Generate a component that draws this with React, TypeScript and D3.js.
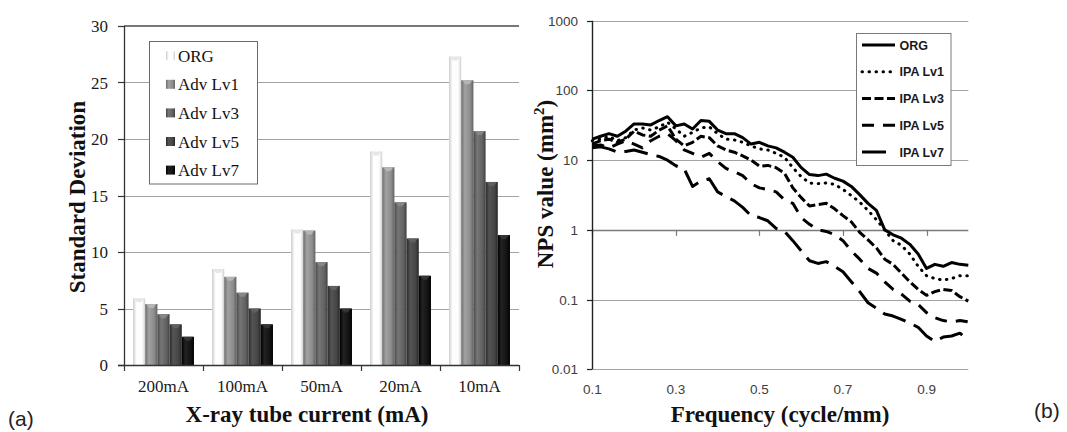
import React from 'react';
import * as d3 from 'd3';

// ---------- (a) standard deviation by tube current ----------
const categories = ['200mA', '100mA', '50mA', '20mA', '10mA'];
const barSeries = ['ORG', 'Adv Lv1', 'Adv Lv3', 'Adv Lv5', 'Adv Lv7'];
const sdOrg = [5.9, 8.5, 12.0, 18.9, 27.3];
const sdAdv1 = [5.4, 7.8, 11.9, 17.5, 25.2];
const sdAdv3 = [4.5, 6.4, 9.1, 14.4, 20.7];
const sdAdv5 = [3.6, 5.0, 7.0, 11.2, 16.2];
const sdAdv7 = [2.5, 3.6, 5.0, 7.9, 11.5];
const sdTicks = [0, 5, 10, 15, 20, 25, 30];

// ---------- (b) noise power spectrum ----------
const freq = [
  0.1, 0.12, 0.14, 0.16, 0.18, 0.2, 0.22, 0.24, 0.26, 0.28,
  0.3, 0.32, 0.34, 0.36, 0.38, 0.4, 0.42, 0.44, 0.46, 0.48,
  0.5, 0.52, 0.54, 0.56, 0.58, 0.6, 0.62, 0.64, 0.66, 0.68,
  0.7, 0.72, 0.74, 0.76, 0.78, 0.8, 0.82, 0.84, 0.86, 0.88,
  0.9, 0.92, 0.94, 0.96, 0.98, 1.0,
];
const npsOrg = [
  20, 22, 24, 22, 26, 33, 33, 32, 37, 42,
  31, 33, 28, 37, 36, 27, 24, 24, 21, 17,
  18, 16, 15, 13, 11, 7.8, 6.2, 6.0, 6.3, 5.5,
  5.0, 4.2, 3.2, 2.4, 1.9, 1.0, 0.85, 0.76, 0.62, 0.45,
  0.28, 0.32, 0.3, 0.34, 0.32, 0.31,
];
const npsLv1 = [
  19, 20, 22, 19, 21, 27, 29, 27, 30, 35,
  28, 22, 25, 29, 30, 24, 20, 19.5, 18, 16,
  14.5, 14, 12.5, 11, 7.8, 5.8, 4.7, 4.6, 4.7, 4.5,
  3.8, 3.1, 2.5, 1.9, 1.4, 1.0, 0.7, 0.6, 0.45, 0.3,
  0.22, 0.2, 0.19, 0.2, 0.22, 0.22,
];
const npsLv3 = [
  17, 19, 20, 18, 20, 26, 23, 22, 27, 31,
  20, 16, 18, 22, 21, 16, 14, 13, 11.5, 10,
  8.2, 8.4, 7.8, 6.5, 4.0, 2.9, 2.2, 2.3, 2.4, 2.0,
  1.6, 1.3, 0.92, 0.72, 0.55, 0.38, 0.32, 0.24, 0.18, 0.14,
  0.115, 0.13, 0.14, 0.135, 0.11, 0.095,
];
const npsLv5 = [
  16, 16.5, 15, 17, 19, 17, 15, 19, 22, 24,
  19, 14, 12.5, 11, 12.5, 9.5, 7.6, 6.8, 6.0, 4.6,
  4.0, 3.8, 3.5, 2.7, 2.4, 1.5, 1.2, 1.0, 0.95, 0.85,
  0.7, 0.5, 0.38, 0.28, 0.24, 0.18, 0.14, 0.12, 0.095, 0.085,
  0.065, 0.055, 0.05, 0.048, 0.05, 0.048,
];
const npsLv7 = [
  15, 15.5, 14.5, 13, 13.3, 14, 13, 12, 11.3, 10,
  8.3, 7.5, 4.2, 5.0, 5.4, 3.5, 3.0, 2.6, 2.1, 1.6,
  1.5, 1.35, 1.05, 0.95, 0.7, 0.5, 0.36, 0.33, 0.35, 0.3,
  0.25, 0.18, 0.13, 0.09, 0.075, 0.062, 0.058, 0.052, 0.046, 0.04,
  0.03, 0.025, 0.029, 0.03, 0.033, 0.026,
];
const lineSeries = ['ORG', 'IPA Lv1', 'IPA Lv3', 'IPA Lv5', 'IPA Lv7'];
const npsTicks = [0.01, 0.1, 1, 10, 100, 1000];
const freqTicks = [0.1, 0.3, 0.5, 0.7, 0.9];

const SERIF = '"Liberation Serif", "Times New Roman", serif';
const SANS = '"Liberation Sans", Arial, sans-serif';

// shaded column fills: [edge, highlight, body, dark edge]
const barShades = [
  ['#cdcdcd', '#ffffff', '#fdfdfd', '#cfcfcf'],
  ['#6c6c6c', '#a2a2a2', '#8b8b8b', '#626262'],
  ['#474747', '#767676', '#616161', '#414141'],
  ['#2a2a2a', '#545454', '#454545', '#262626'],
  ['#000000', '#222222', '#121212', '#000000'],
];
const capShades = ['#e6e6e6', '#b5b5b5', '#868686', '#606060', '#333333'];

const dashes = ['none', '0.5 6.5', '9 3.5', '12 9', '24 9'];

const fmtNps = (v: number) => (v >= 1 ? String(v) : String(v));

export default function App() {
  // panel (a)
  const xCat = d3.scaleBand<string>().domain(categories).range([124, 519]);
  const xSer = d3
    .scaleBand<string>()
    .domain(barSeries)
    .range([0, xCat.bandwidth()])
    .paddingOuter(0.74);
  const ySD = d3.scaleLinear().domain([0, 30]).range([365, 26]);
  const barValues = [sdOrg, sdAdv1, sdAdv3, sdAdv5, sdAdv7];

  // panel (b)
  const xF = d3.scaleLinear().domain([0.1, 1.0]).range([592.3, 968.3]);
  const yN = d3.scaleLog().domain([0.01, 1000]).range([369.3, 20.7]);
  const npsValues = [npsOrg, npsLv1, npsLv3, npsLv5, npsLv7];
  const line = d3
    .line<number>()
    .x((_, i) => xF(freq[i]))
    .y((d) => yN(d));

  const bw = xSer.bandwidth();
  const r = (v: number) => Math.round(v) + 0.5;

  return (
    <svg
      width={1067}
      height={432}
      viewBox="0 0 1067 432"
      style={{ position: 'absolute', left: 0, top: 0, background: '#fff' }}
    >
      <defs>
        {barShades.map((s, i) => (
          <linearGradient key={i} id={`bar${i}`} x1="0" x2="1" y1="0" y2="0">
            <stop offset="0" stopColor={s[0]} />
            <stop offset="0.3" stopColor={s[1]} />
            <stop offset="0.75" stopColor={s[2]} />
            <stop offset="1" stopColor={s[3]} />
          </linearGradient>
        ))}
      </defs>

      {/* ---------- (a) ---------- */}
      {sdTicks.slice(1, -1).map((t) => (
        <line
          key={t}
          x1={124}
          x2={519}
          y1={r(ySD(t))}
          y2={r(ySD(t))}
          stroke="#a3a3a3"
          strokeWidth={1}
        />
      ))}
      <line x1={124} x2={519} y1={ySD(30)} y2={ySD(30)} stroke="#4a4a4a" strokeWidth={1.6} />

      {categories.map((c, ci) =>
        barSeries.map((s, si) => {
          const v = barValues[si][ci];
          const x = (xCat(c) as number) + (xSer(s) as number);
          const y = ySD(v);
          const h = ySD(0) - y;
          const cx = x + bw / 2;
          return (
            <g key={`${c}-${s}`}>
              <rect x={x} y={y} width={bw} height={h} fill={`url(#bar${si})`} />
              <path
                d={`M${x + 1},${y} L${x + bw - 1},${y} L${cx + 2},${y + 4} L${cx - 2},${y + 4} Z`}
                fill={capShades[si]}
              />
            </g>
          );
        })
      )}

      {/* axes (a) */}
      <line x1={r(124)} x2={r(124)} y1={26} y2={365} stroke="#333" strokeWidth={1.3} />
      <line x1={118} x2={519} y1={r(365)} y2={r(365)} stroke="#333" strokeWidth={1.3} />
      {sdTicks.map((t) => (
        <g key={t}>
          <line x1={118} x2={124} y1={r(ySD(t))} y2={r(ySD(t))} stroke="#333" strokeWidth={1.2} />
          <text
            x={108}
            y={ySD(t) + 6}
            textAnchor="end"
            fontFamily={SERIF}
            fontSize={17}
            fill="#1a1a1a"
          >
            {t}
          </text>
        </g>
      ))}
      {[...categories.map((c) => xCat(c) as number), 519].map((x, i) => (
        <line key={i} x1={r(x)} x2={r(x)} y1={365} y2={371} stroke="#333" strokeWidth={1.2} />
      ))}
      {categories.map((c) => (
        <text
          key={c}
          x={(xCat(c) as number) + xCat.bandwidth() / 2}
          y={392}
          textAnchor="middle"
          fontFamily={SERIF}
          fontSize={17}
          fill="#1a1a1a"
        >
          {c}
        </text>
      ))}
      <text
        x={307}
        y={422}
        textAnchor="middle"
        fontFamily={SERIF}
        fontWeight="bold"
        fontSize={23}
        fill="#111"
      >
        X-ray tube current (mA)
      </text>
      <text
        transform="translate(85,197) rotate(-90)"
        textAnchor="middle"
        fontFamily={SERIF}
        fontWeight="bold"
        fontSize={23}
        fill="#111"
      >
        Standard Deviation
      </text>

      {/* legend (a) */}
      <rect x={149.5} y={41.5} width={108} height={142.5} fill="#fff" stroke="#6a6a6a" strokeWidth={1} />
      {barSeries.map((s, i) => {
        const cy = 55.7 + i * 28.6;
        return (
          <g key={s}>
            <rect x={166} y={cy - 4.5} width={9} height={9} fill={`url(#bar${i})`} />
            <text x={178} y={cy + 6} fontFamily={SERIF} fontSize={17} fill="#111">
              {s}
            </text>
          </g>
        );
      })}

      <text x={8} y={426} fontFamily={SANS} fontSize={21} fill="#222">
        (a)
      </text>

      {/* ---------- (b) ---------- */}
      {npsTicks
        .filter((t) => t !== 1)
        .map((t) => (
          <line
            key={t}
            x1={592}
            x2={968.3}
            y1={r(yN(t))}
            y2={r(yN(t))}
            stroke="#a3a3a3"
            strokeWidth={1}
          />
        ))}
      {/* category axis crosses the value axis at 1 */}
      <line x1={592} x2={968.3} y1={r(yN(1))} y2={r(yN(1))} stroke="#7a7a7a" strokeWidth={1.3} />
      {freqTicks.map((f) => (
        <line
          key={f}
          x1={r(xF(f))}
          x2={r(xF(f))}
          y1={yN(1)}
          y2={yN(1) + 6}
          stroke="#7a7a7a"
          strokeWidth={1.2}
        />
      ))}
      <line x1={r(592.3)} x2={r(592.3)} y1={20.7} y2={369.3} stroke="#222" strokeWidth={1.4} />
      {npsTicks.map((t) => (
        <g key={t}>
          <line x1={587} x2={592} y1={r(yN(t))} y2={r(yN(t))} stroke="#222" strokeWidth={1.2} />
          <text
            x={578}
            y={yN(t) + 5}
            textAnchor="end"
            fontFamily={SANS}
            fontSize={13.5}
            fill="#404040"
          >
            {fmtNps(t)}
          </text>
        </g>
      ))}
      {freqTicks.map((f) => (
        <text
          key={f}
          x={xF(f)}
          y={394}
          textAnchor="middle"
          fontFamily={SANS}
          fontSize={13.5}
          fill="#404040"
        >
          {f.toFixed(1)}
        </text>
      ))}

      {npsValues.map((vals, i) => (
        <path
          key={lineSeries[i]}
          d={line(vals) as string}
          fill="none"
          stroke="#000"
          strokeWidth={3}
          strokeLinejoin="round"
          strokeLinecap={i === 1 ? 'round' : 'butt'}
          strokeDasharray={dashes[i]}
        />
      ))}

      <text
        x={780}
        y={422}
        textAnchor="middle"
        fontFamily={SERIF}
        fontWeight="bold"
        fontSize={23}
        fill="#111"
      >
        Frequency (cycle/mm)
      </text>
      <text
        transform="translate(553,184) rotate(-90)"
        textAnchor="middle"
        fontFamily={SERIF}
        fontWeight="bold"
        fontSize={23}
        fill="#111"
      >
        NPS value (mm
        <tspan dy={-9} fontSize={15}>
          2
        </tspan>
        <tspan dy={9}>)</tspan>
      </text>

      {/* legend (b) */}
      <rect x={856.5} y={33.5} width={94.5} height={132} fill="#fff" stroke="#7a7a7a" strokeWidth={1} />
      {lineSeries.map((s, i) => {
        const cy = 45 + i * 26.75;
        return (
          <g key={s}>
            <line
              x1={862}
              x2={895}
              y1={cy}
              y2={cy}
              stroke="#000"
              strokeWidth={3}
              strokeLinecap={i === 1 ? 'round' : 'butt'}
              strokeDasharray={dashes[i]}
            />
            <text
              x={899.5}
              y={cy + 4.5}
              fontFamily={SANS}
              fontWeight="bold"
              fontSize={12.5}
              fill="#1a1a1a"
            >
              {s}
            </text>
          </g>
        );
      })}

      <text x={1034} y={418} fontFamily={SANS} fontSize={21} fill="#222">
        (b)
      </text>
    </svg>
  );
}
